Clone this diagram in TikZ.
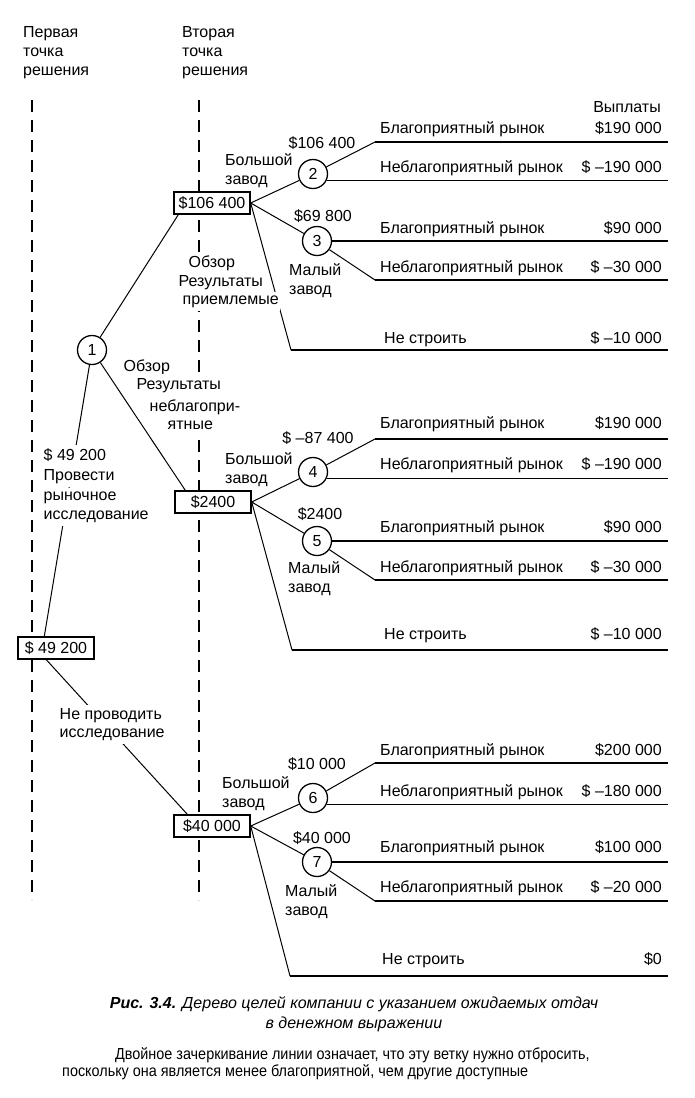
\documentclass[tikz,border=0pt]{standalone}
\usepackage{fontspec}
\setmainfont{Liberation Sans}
\newfontfamily\narrowfont{Liberation Sans}[FakeStretch=0.9]
\begin{document}
\begin{tikzpicture}[x=1pt,y=-1pt,
  tf/.style={font=\fontsize{16}{19}\selectfont},
  lab/.style={tf, inner sep=0pt, anchor=base west},
  amt/.style={tf, inner sep=0pt, anchor=base east},
  clab/.style={tf, inner sep=0pt, anchor=base},
  wlab/.style={tf, inner xsep=1.5pt, inner ysep=3.5pt, anchor=base west, fill=white},
  valbox/.style={tf, draw, line width=1.4pt, fill=white, minimum width=76pt, minimum height=22pt, inner xsep=4pt, inner ysep=2pt},
  chance/.style={tf, circle, draw, line width=1.3pt, minimum size=29pt, inner sep=0pt, fill=white},
  branch/.style={line width=1pt},
  pay/.style={line width=1.7pt},
  guide/.style={line width=1.6pt, dash pattern=on 12pt off 8pt},
  capt/.style={font=\fontsize{16}{19}\selectfont\itshape, inner sep=0pt, anchor=base},
  para/.style={font=\narrowfont\fontsize{16}{19}\selectfont, inner sep=0pt, anchor=base west}]

\useasboundingbox (0,0) rectangle (694,1098);
\fill[white] (0,0) rectangle (694,1098);

% guide lines
\coordinate (g1t) at (32,100); \coordinate (g1b) at (32,900);
\coordinate (g2t) at (199,100); \coordinate (g2b) at (199,900);
\draw[guide] (g1t) -- (g1b);
\draw[guide] (g2t) -- (g2b);

% headers
\node[lab] (h1a) at (23,37) {Первая};
\node[lab] (h1b) at (23,56) {точка};
\node[lab] (h1c) at (23,75) {решения};
\node[lab] (h2a) at (182,37) {Вторая};
\node[lab] (h2b) at (182,56) {точка};
\node[lab] (h2c) at (182,75) {решения};
\node[amt] (vyp) at (661,112) {Выплаты};

% decision and chance nodes
\node[valbox] (b0) at (56,648) {\$ 49 200};
\node[valbox] (b1) at (212,203) {\$106 400};
\node[valbox] (b2) at (213,502) {\$2400};
\node[valbox] (b3) at (212,826) {\$40 000};
\node[chance] (c1) at (92,350) {1};
\node[chance] (c2) at (313,174) {2};
\node[chance] (c3) at (317,241) {3};
\node[chance] (c4) at (313,472) {4};
\node[chance] (c5) at (317,541) {5};
\node[chance] (c6) at (313,798) {6};
\node[chance] (c7) at (317,862) {7};

\coordinate (xe) at (668,0);
\coordinate (u2) at (375,142); \coordinate (l3) at (375,280); \coordinate (n1) at (291,350);
\coordinate (u4) at (375,439); \coordinate (l5) at (375,580); \coordinate (n2) at (292,650);
\coordinate (u6) at (375,763); \coordinate (l7) at (375,901); \coordinate (n3) at (290,976);

% first level
\draw[branch] ([xshift=27pt]b0.north west) -- (c1);
\draw[branch] (c1) -- ([xshift=5pt]b1.south west);
\draw[branch] (c1) -- ([xshift=11pt]b2.north west);
\draw[branch] ([xshift=29pt]b0.south west) -- ([xshift=14pt]b3.north west);

% group 1
\draw[branch] (b1.east) -- (c2);
\draw[branch] (b1.east) -- (c3);
\draw[branch] (b1.east) -- (n1);
\draw[pay] (n1) -- (n1 -| xe);
\draw[branch] (c2.28) -- (u2);
\draw[pay] (u2) -- (u2 -| xe);
\draw[pay] (c2.-25) -- (c2.-25 -| xe);
\draw[pay] (c3.east) -- (c3.east -| xe);
\draw[branch] (c3.-35) -- (l3);
\draw[pay] (l3) -- (l3 -| xe);

% group 2
\draw[branch] (b2.east) -- (c4);
\draw[branch] (b2.east) -- (c5);
\draw[branch] (b2.east) -- (n2);
\draw[pay] (n2) -- (n2 -| xe);
\draw[branch] (c4.28) -- (u4);
\draw[pay] (u4) -- (u4 -| xe);
\draw[pay] (c4.-25) -- (c4.-25 -| xe);
\draw[pay] (c5.east) -- (c5.east -| xe);
\draw[branch] (c5.-35) -- (l5);
\draw[pay] (l5) -- (l5 -| xe);

% group 3
\draw[branch] (b3.east) -- (c6);
\draw[branch] (b3.east) -- (c7);
\draw[branch] (b3.east) -- (n3);
\draw[pay] (n3) -- (n3 -| xe);
\draw[branch] (c6.28) -- (u6);
\draw[pay] (u6) -- (u6 -| xe);
\draw[pay] (c6.-25) -- (c6.-25 -| xe);
\draw[pay] (c7.east) -- (c7.east -| xe);
\draw[branch] (c7.-35) -- (l7);
\draw[pay] (l7) -- (l7 -| xe);

% labels on first-level branches
\node[wlab] (a1) at (42,460) {\$ 49 200};
\node[wlab] (a2) at (42,480) {Провести};
\node[wlab] (a3) at (42,500) {рыночное};
\node[wlab] (a4) at (42,519) {исследование};
\node[wlab] (d1) at (58,719) {Не проводить};
\node[wlab] (d2) at (58,737) {исследование};
\node[wlab] (o1) at (187,267) {Обзор};
\node[wlab] (o2) at (177,286) {Результаты};
\node[wlab] (o3) at (181,304) {приемлемые};
\node[wlab] (q1) at (122,371) {Обзор};
\node[wlab] (q2) at (135,389) {Результаты};
\node[wlab] (q3) at (148,411) {неблагопри-};
\node[wlab] (q4) at (166,429) {ятные};

% group 1 labels
\node[clab] (e2) at (322,148) {\$106 400};
\node[lab] (k2a) at (225,165) {Большой};
\node[lab] (k2b) at (225,184) {завод};
\node[clab] (e3) at (323,221) {\$69 800};
\node[lab] (k3a) at (289,275) {Малый};
\node[lab] (k3b) at (289,294) {завод};
\node[lab] (r11) at (380,133) {Благоприятный рынок};
\node[amt] (p11) at (662,133) {\$190 000};
\node[lab] (r12) at (380,172) {Неблагоприятный рынок};
\node[amt] (p12) at (662,172) {\$ –190 000};
\node[lab] (r13) at (380,233) {Благоприятный рынок};
\node[amt] (p13) at (662,233) {\$90 000};
\node[lab] (r14) at (380,272) {Неблагоприятный рынок};
\node[amt] (p14) at (662,272) {\$ –30 000};
\node[lab] (r15) at (384,343) {Не строить};
\node[amt] (p15) at (662,343) {\$ –10 000};

% group 2 labels
\node[clab] (e4) at (318,443) {\$ –87 400};
\node[lab] (k4a) at (225,464) {Большой};
\node[lab] (k4b) at (225,483) {завод};
\node[clab] (e5) at (320,519) {\$2400};
\node[lab] (k5a) at (288,573) {Малый};
\node[lab] (k5b) at (288,592) {завод};
\node[lab] (r21) at (380,428) {Благоприятный рынок};
\node[amt] (p21) at (662,428) {\$190 000};
\node[lab] (r22) at (380,469) {Неблагоприятный рынок};
\node[amt] (p22) at (662,469) {\$ –190 000};
\node[lab] (r23) at (380,532) {Благоприятный рынок};
\node[amt] (p23) at (662,532) {\$90 000};
\node[lab] (r24) at (380,572) {Неблагоприятный рынок};
\node[amt] (p24) at (662,572) {\$ –30 000};
\node[lab] (r25) at (384,639) {Не строить};
\node[amt] (p25) at (662,639) {\$ –10 000};

% group 3 labels
\node[clab] (e6) at (317,769) {\$10 000};
\node[lab] (k6a) at (222,788) {Большой};
\node[lab] (k6b) at (222,807) {завод};
\node[clab] (e7) at (322,843) {\$40 000};
\node[lab] (k7a) at (285,896) {Малый};
\node[lab] (k7b) at (285,915) {завод};
\node[lab] (r31) at (380,755) {Благоприятный рынок};
\node[amt] (p31) at (662,755) {\$200 000};
\node[lab] (r32) at (380,796) {Неблагоприятный рынок};
\node[amt] (p32) at (662,796) {\$ –180 000};
\node[lab] (r33) at (380,852) {Благоприятный рынок};
\node[amt] (p33) at (662,852) {\$100 000};
\node[lab] (r34) at (380,892) {Неблагоприятный рынок};
\node[amt] (p34) at (662,892) {\$ –20 000};
\node[lab] (r35) at (382,964) {Не строить};
\node[amt] (p35) at (662,964) {\$0};

% caption
\node[capt] (cap1) at (354,1008) {\textbf{Рис. 3.4.} Дерево целей компании с указанием ожидаемых отдач};
\node[capt] (cap2) at (354,1028) {в денежном выражении};
\node[para] (par1) at (115,1059) {Двойное зачеркивание линии означает, что эту ветку нужно отбросить,};
\node[para] (par2) at (62,1076) {поскольку она является менее благоприятной, чем другие доступные};
\end{tikzpicture}
\end{document}
